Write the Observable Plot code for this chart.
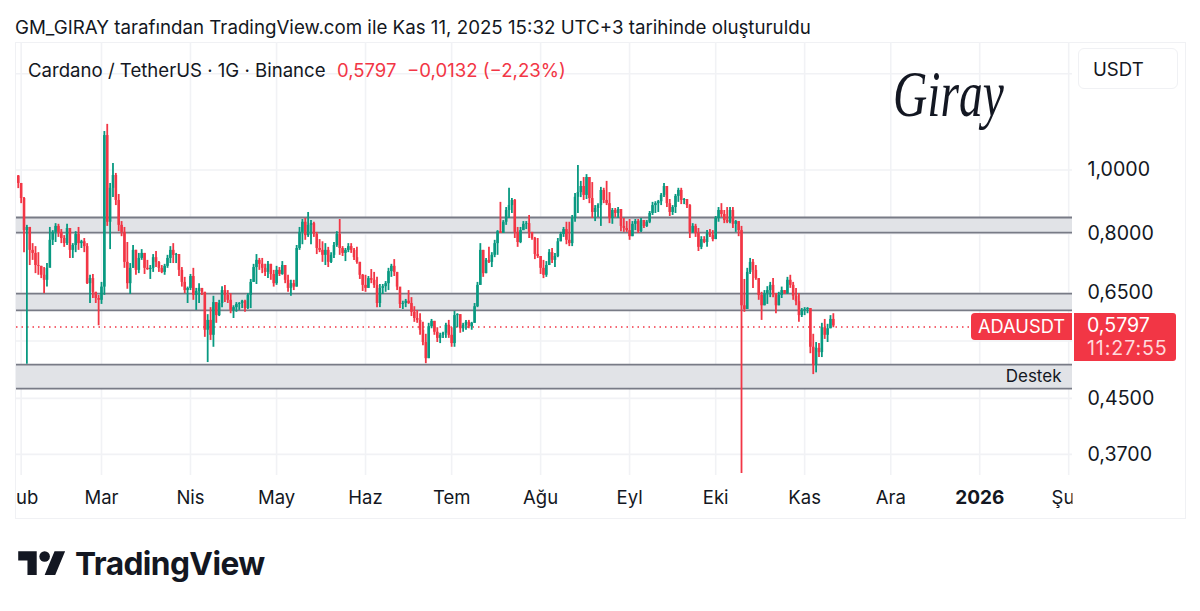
<!DOCTYPE html>
<html><head><meta charset="utf-8">
<script src="https://cdn.jsdelivr.net/npm/d3@7"></script>
<script src="https://cdn.jsdelivr.net/npm/@observablehq/plot@0.6"></script>
<style>
html,body{margin:0;padding:0;background:#fff;font-family:Inter,"Noto Sans",sans-serif;color:#131722;}
#page{position:relative;width:1200px;height:611px;overflow:hidden;}
.abs{position:absolute;white-space:nowrap;}
</style></head><body><div id="page"></div>
<script>
const firstDay = Date.UTC(2025,0,31);
const close = [.954,.905,.809,.818,.755,.747,.716,.714,.692,.680,.709,.782,.804,.821,.804,.787,.773,.815,.755,.768,.798,.773,.778,.765,.672,.684,.652,.638,.634,.664,1.128,.833,.938,.981,.899,.824,.804,.724,.672,.709,.755,.704,.734,.747,.709,.706,.709,.736,.724,.709,.699,.714,.734,.755,.742,.744,.704,.675,.656,.661,.689,.645,.654,.661,.652,.571,.591,.561,.629,.601,.627,.656,.645,.634,.612,.618,.625,.627,.632,.616,.645,.675,.711,.729,.719,.709,.699,.719,.694,.672,.704,.694,.716,.680,.661,.672,.664,.760,.804,.833,.795,.824,.829,.798,.760,.755,.742,.755,.724,.742,.768,.798,.760,.747,.755,.765,.755,.736,.724,.692,.668,.661,.684,.680,.668,.627,.661,.665,.672,.701,.714,.699,.664,.625,.627,.632,.627,.608,.595,.591,.571,.547,.517,.578,.589,.567,.555,.561,.565,.581,.561,.545,.601,.603,.574,.581,.587,.578,.585,.620,.668,.755,.696,.729,.724,.742,.773,.806,.801,.833,.868,.883,.899,.804,.776,.809,.827,.829,.804,.787,.744,.739,.709,.692,.716,.749,.729,.739,.778,.798,.812,.782,.773,.844,.909,.924,.944,.915,.974,.905,.862,.874,.883,.931,.899,.889,.844,.868,.859,.871,.821,.815,.809,.792,.827,.835,.806,.838,.821,.833,.859,.883,.889,.895,.915,.944,.889,.862,.877,.912,.931,.899,.902,.883,.804,.821,.801,.763,.784,.776,.801,.795,.784,.844,.868,.856,.838,.833,.868,.827,.835,.809,.622,.614,.699,.724,.704,.684,.645,.622,.649,.656,.668,.649,.622,.645,.656,.649,.680,.668,.643,.631,.601,.612,.614,.616,.538,.505,.536,.528,.576,.561,.574,.593,.5797];
const high = [.981,.954,.908,.824,.818,.773,.765,.749,.714,.711,.721,.818,.809,.829,.827,.812,.795,.827,.815,.773,.806,.818,.782,.787,.773,.692,.694,.652,.645,.675,1.144,1.173,.954,1.023,.988,.918,.835,.818,.776,.721,.768,.755,.747,.757,.747,.729,.716,.744,.752,.726,.716,.719,.742,.765,.773,.747,.744,.711,.687,.664,.694,.709,.661,.672,.661,.652,.603,.618,.643,.629,.634,.665,.668,.656,.649,.622,.629,.629,.634,.634,.649,.682,.719,.744,.734,.734,.719,.726,.719,.704,.714,.711,.726,.716,.692,.680,.680,.768,.818,.841,.844,.862,.838,.833,.804,.784,.778,.773,.763,.749,.776,.806,.841,.765,.760,.773,.773,.760,.763,.724,.694,.692,.689,.706,.699,.687,.670,.670,.677,.709,.719,.731,.699,.661,.632,.636,.656,.640,.620,.612,.605,.587,.563,.585,.593,.589,.576,.565,.567,.585,.591,.576,.610,.605,.603,.585,.591,.591,.587,.627,.675,.773,.755,.734,.763,.749,.782,.809,.893,.838,.877,.938,.905,.902,.818,.818,.835,.835,.853,.804,.790,.787,.739,.729,.726,.757,.760,.747,.787,.804,.818,.833,.833,.853,.921,1.016,.961,.974,.984,.974,.957,.883,.889,.941,.938,.961,.924,.874,.874,.877,.871,.844,.835,.841,.835,.841,.841,.844,.838,.838,.865,.893,.895,.899,.921,.954,.944,.902,.883,.918,.938,.938,.905,.902,.886,.829,.827,.815,.792,.792,.809,.812,.809,.850,.877,.889,.868,.877,.877,.877,.838,.835,.821,.682,.709,.734,.731,.716,.684,.652,.656,.665,.675,.684,.649,.652,.664,.656,.687,.692,.675,.661,.649,.616,.618,.618,.616,.563,.547,.545,.585,.593,.583,.601,.605];
const low = [.937,.889,.749,.507,.716,.729,.696,.692,.684,.649,.664,.711,.768,.776,.790,.773,.763,.768,.734,.734,.749,.755,.760,.749,.670,.627,.638,.627,.580,.625,.645,.821,.757,.908,.883,.806,.792,.709,.659,.647,.709,.692,.696,.729,.694,.704,.682,.699,.711,.699,.696,.692,.709,.721,.721,.721,.689,.664,.649,.627,.656,.634,.612,.627,.645,.557,.510,.551,.538,.585,.599,.618,.629,.627,.605,.595,.608,.612,.616,.608,.614,.616,.675,.670,.704,.696,.689,.684,.680,.664,.668,.689,.692,.672,.652,.643,.656,.664,.755,.770,.782,.790,.770,.790,.744,.749,.724,.716,.711,.721,.734,.763,.742,.739,.726,.749,.747,.729,.719,.682,.654,.652,.661,.672,.661,.618,.618,.647,.652,.656,.687,.689,.656,.616,.614,.618,.625,.599,.587,.585,.561,.541,.508,.517,.574,.561,.547,.545,.555,.555,.555,.538,.538,.576,.565,.567,.571,.574,.571,.585,.618,.668,.687,.696,.721,.711,.736,.742,.801,.801,.824,.844,.859,.787,.763,.773,.809,.812,.787,.782,.731,.734,.694,.684,.687,.716,.721,.711,.736,.778,.790,.770,.765,.765,.833,.859,.908,.899,.902,.889,.844,.835,.847,.821,.889,.883,.829,.827,.847,.844,.806,.804,.804,.782,.792,.809,.801,.804,.815,.818,.829,.853,.859,.862,.883,.908,.877,.850,.853,.859,.893,.886,.886,.874,.787,.801,.790,.752,.757,.773,.763,.790,.778,.784,.833,.847,.829,.829,.829,.815,.804,.792,.346,.608,.614,.694,.661,.680,.634,.591,.622,.625,.640,.640,.605,.622,.638,.647,.647,.661,.634,.622,.587,.597,.601,.605,.526,.489,.492,.519,.519,.553,.547,.574,.576];
const firstOpen = .979;
const open = [firstOpen, ...close.slice(0,-1)];
const monthTicks = [[2025,1],[2025,2],[2025,3],[2025,4],[2025,5],[2025,6],[2025,7],[2025,8],[2025,9],[2025,10],[2025,11],[2026,1]];
const monthLabels = ["Şub","Mar","Nis","May","Haz","Tem","Ağu","Eyl","Eki","Kas","Ara","Şub"];
const yearTick = [2026,0];
const yearLabel = "2026";
const priceTicks = [1.0,0.8,0.65,0.45,0.37];
const priceGrid = [1.4,1.0,0.8,0.65,0.55,0.45,0.37];
const bands = [{hi:.847,lo:.8036},{hi:.649,lo:.612},{hi:.5065,lo:.4656}];
const lastPrice = .5797;
const supportPrice = .4855;
const xStart = new Date(Date.UTC(2025,2,1) - 29.617*864e5);
const xEnd = new Date(Date.UTC(2025,2,1) + 338.33*864e5);

const candles = close.map((c,i)=>({date:new Date(firstDay+i*864e5),o:open[i],h:high[i],l:low[i],c,dir:c>=open[i]?"up":"down"}));
const mDates = monthTicks.map(([y,m])=>new Date(Date.UTC(y,m,1)));
const yDate = new Date(Date.UTC(yearTick[0],yearTick[1],1));
const comma = d=>d.toFixed(4).replace(".",",");
const GRID="#f1f2f5", FONT="Inter";

const chart = Plot.plot({
  width:1200,height:611,marginLeft:16,marginRight:128,marginTop:42,marginBottom:136,
  style:{background:"transparent",fontFamily:FONT,fontSize:"18px",overflow:"visible"},
  x:{type:"utc",domain:[xStart,xEnd],axis:null},
  y:{type:"log",domain:[.3436,1.5618],axis:null},
  color:{domain:["up","down"],range:["#089981","#f23645"]},
  marks:[
    Plot.ruleX([...mDates,yDate],{x:d=>d,stroke:GRID,strokeWidth:1.6}),
    Plot.ruleY(priceGrid,{y:d=>d,stroke:GRID,strokeWidth:1.6}),
    Plot.rectY(bands,{x1:()=>xStart,x2:()=>xEnd,y1:"lo",y2:"hi",fill:"#e1e3e7"}),
    Plot.ruleY(bands.flatMap(b=>[b.hi,b.lo]),{y:d=>d,stroke:"#787b86",strokeWidth:1.8}),
    Plot.ruleY([lastPrice],{y:d=>d,dy:1,stroke:"#f23645",strokeWidth:1.5,strokeDasharray:"1.5 4"}),
    Plot.ruleX(candles,{x:"date",y1:"l",y2:"h",stroke:"dir",strokeWidth:1.8}),
    Plot.ruleX(candles,{x:"date",y1:"o",y2:"c",stroke:"dir",strokeWidth:2.6}),
    Plot.text(priceTicks,{y:d=>d,text:comma,frameAnchor:"right",dx:15,textAnchor:"start",fontSize:19.6,fill:"#131722"}),
    Plot.text(["Destek"],{y:()=>supportPrice,text:d=>d,frameAnchor:"right",dx:-11,textAnchor:"end",fontSize:17,fill:"#131722"}),
    Plot.text(mDates,{x:d=>d,text:(d,i)=>monthLabels[i],frameAnchor:"bottom",dy:28,fontSize:18.5,fill:"#131722"}),
    Plot.text([yDate],{x:d=>d,text:()=>yearLabel,frameAnchor:"bottom",dy:28,fontSize:19,fontWeight:700,fill:"#131722"})
  ]
});
// clip the month labels to the pane's width, as the pane does
const ns="http://www.w3.org/2000/svg";
const defs=document.createElementNS(ns,"defs");
const cp=document.createElementNS(ns,"clipPath");cp.setAttribute("id","paneclip");
const cr=document.createElementNS(ns,"rect");
cr.setAttribute("x",16);cr.setAttribute("y",420);cr.setAttribute("width",1056);cr.setAttribute("height",120);
cp.appendChild(cr);defs.appendChild(cp);chart.appendChild(defs);
const monthNode=[...chart.querySelectorAll("text")].find(t=>t.textContent==="Şub");
if(monthNode) monthNode.parentNode.setAttribute("clip-path","url(#paneclip)");

const page=document.getElementById("page");
function add(html,style){const d=document.createElement("div");d.className="abs";d.style.cssText=style;d.innerHTML=html;page.appendChild(d);return d;}
add("","left:15px;top:42px;width:1169px;height:475px;border:1px solid #f0f1f4;box-sizing:content-box;");
chart.style.position="absolute";chart.style.left="0";chart.style.top="0";
page.appendChild(chart);
add("GM_GIRAY tarafından TradingView.com ile Kas 11, 2025 15:32 UTC+3 tarihinde oluşturuldu","left:15px;top:17px;font-size:18.73px;line-height:22px;");
add("Cardano / TetherUS · 1G · Binance","left:28px;top:59px;font-size:18.6px;line-height:22px;");
add("0,5797","left:337px;top:59px;font-size:18.5px;line-height:22px;color:#f23645;");
add("−0,0132 (−2,23%)","left:407px;top:59px;font-size:18.6px;line-height:22px;color:#f23645;");
add("USDT","left:1078px;top:48px;width:100px;height:41px;border:1px solid #f0f1f4;border-radius:6px;box-sizing:border-box;padding-left:14px;font-size:18.6px;line-height:40px;background:#fff;");
add("Giray","left:893px;top:56px;font-family:'Liberation Serif',serif;font-style:italic;font-size:66px;line-height:76px;color:#131722;transform-origin:left center;transform:scaleX(.72);");
add("ADAUSDT","left:971px;top:313px;width:101px;height:27px;background:#f23645;color:#fff;border-radius:4px 0 0 4px;font-size:18.3px;line-height:27px;text-align:center;");
add('<div style="line-height:24px;font-size:19.6px;">0,5797</div><div style="line-height:22px;font-size:19.6px;letter-spacing:.9px;color:#ffd9dc;">11:27:55</div>',"left:1074px;top:313px;width:102px;height:48px;background:#f23645;color:#fff;border-radius:0 3px 3px 0;box-sizing:border-box;padding-left:13px;");
add('<svg width="48" height="37" viewBox="0 0 36 28"><path fill="#131722" d="M14 22H7V11H0V4h14v18zM28 22h-8l7.5-18h8L28 22z"/><circle cx="20" cy="8" r="4" fill="#131722"/></svg>',"left:18px;top:546px;");
add("TradingView","left:75px;top:544px;font-size:31.7px;font-weight:700;line-height:40px;letter-spacing:-.6px;color:#131722;");
</script></body></html>
